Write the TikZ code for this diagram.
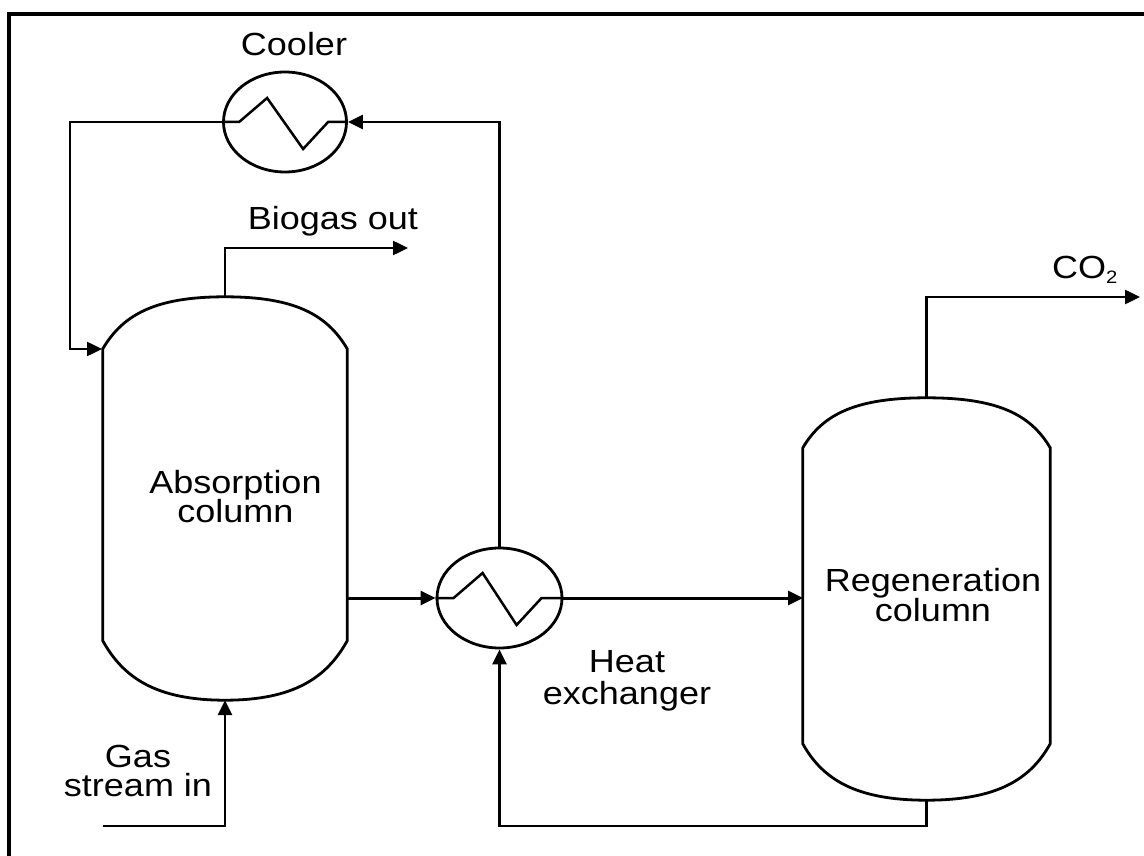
\documentclass[tikz,border=0pt]{standalone}
\usepackage{fontspec}
\setmainfont[FakeStretch=1.125]{Liberation Sans}
\usetikzlibrary{arrows.meta,shapes.geometric}
\newcommand{\lblfont}[1]{\fontsize{32}{#1}\selectfont\lineskiplimit=-40pt\relax}
\tikzset{
  x=1pt,y=-1pt,
  line/.style={line width=2.5pt,line join=miter},
  flow/.style={line,-{Triangle[length=15pt,width=14pt]}},
  vessel/.style={line width=2.8pt,draw=black},
  column/.style={rectangle,minimum width=244pt,minimum height=403pt,inner sep=0pt},
  exch/.style={ellipse,draw=black,line width=2.8pt,minimum width=123pt,minimum height=100pt,inner sep=0pt},
  zig/.style={line width=2.5pt},
  lbl/.style={font=\lblfont{29},align=center,inner sep=0pt,text=black},
}
\begin{document}
\begin{tikzpicture}
\useasboundingbox (0,0) rectangle (1144,856);
\draw[line width=4pt] (9,14) -- (1144,14);
\draw[line width=4pt] (9,12) -- (9,856);
% columns
\node[column] (abs) at (225,498.5) {};
\node[column,minimum width=247pt,minimum height=402pt] (reg) at (926.5,599) {};
\draw[vessel] (abs.north west) ++(0,52) coordinate (a1)
  .. controls +(20,-34) and +(-70,0) .. (abs.north)
  .. controls +(70,0) and +(-20,-34) .. (abs.north east |- a1)
  -- ++(0,292) coordinate (a2)
  .. controls +(-20,36) and +(70,0) .. (abs.south)
  .. controls +(-70,0) and +(20,36) .. (a1 |- a2) -- cycle;
\draw[vessel] (reg.north west) ++(0,50) coordinate (r1)
  .. controls +(20,-34) and +(-70,0) .. (reg.north)
  .. controls +(70,0) and +(-20,-34) .. (reg.north east |- r1)
  -- ++(0,296) coordinate (r2)
  .. controls +(-20,36) and +(70,0) .. (reg.south)
  .. controls +(-70,0) and +(20,36) .. (r1 |- r2) -- cycle;
% exchangers
\node[exch] (cool) at (285,122) {};
\node[exch,minimum width=125pt] (hx) at (499.5,598) {};
\draw[zig] (cool.west) -- ++(17,0) -- ++(28,-24) -- ++(36,51) -- ++(25,-27) -- (cool.east);
\draw[zig] (hx.west) -- ++(18,0) -- ++(29,-25) -- ++(34,52) -- ++(25,-27) -- (hx.east);
% connector ends
\coordinate (biogasEnd) at (408,248);
\coordinate (co2End) at (1140,297);
\coordinate (gasStart) at (103,826);
\coordinate (absIn) at (102,349);
% connectors
\draw[flow] (cool.west) -| (70,349) -- (absIn);
\draw[flow] (hx.north) |- (cool.east);
\draw[flow] (abs.north) |- (biogasEnd);
\draw[flow,line width=3pt] (347,598) -- (hx.west);
\draw[flow,line width=3pt] (hx.east) -- (803,598);
\draw[flow] (reg.north) |- (co2End);
\draw[flow] (reg.south) |- (499.5,826) -- (hx.south);
\draw[flow] (gasStart) -| (abs.south);
% labels
\node[lbl] (lcool) at (294,44) {Cooler};
\node[lbl] (lbio) at (333,221) {Biogas out};
\node[lbl] (labs) at (235.5,496.5) {Absorption\\column};
\node[lbl,font=\lblfont{30}] (lreg) at (933,595) {Regeneration\\column};
\node[lbl,font=\lblfont{32}] (lhx) at (627,681) {Heat\hspace{26pt}\\exchanger};
\node[lbl] (lgas) at (138,771) {Gas\hspace{-16pt}\\stream in};
\node[lbl,anchor=west] (lco2) at (1052,270) {CO\raisebox{-0.3ex}{\fontsize{18}{18}\selectfont 2}};
\end{tikzpicture}
\end{document}
